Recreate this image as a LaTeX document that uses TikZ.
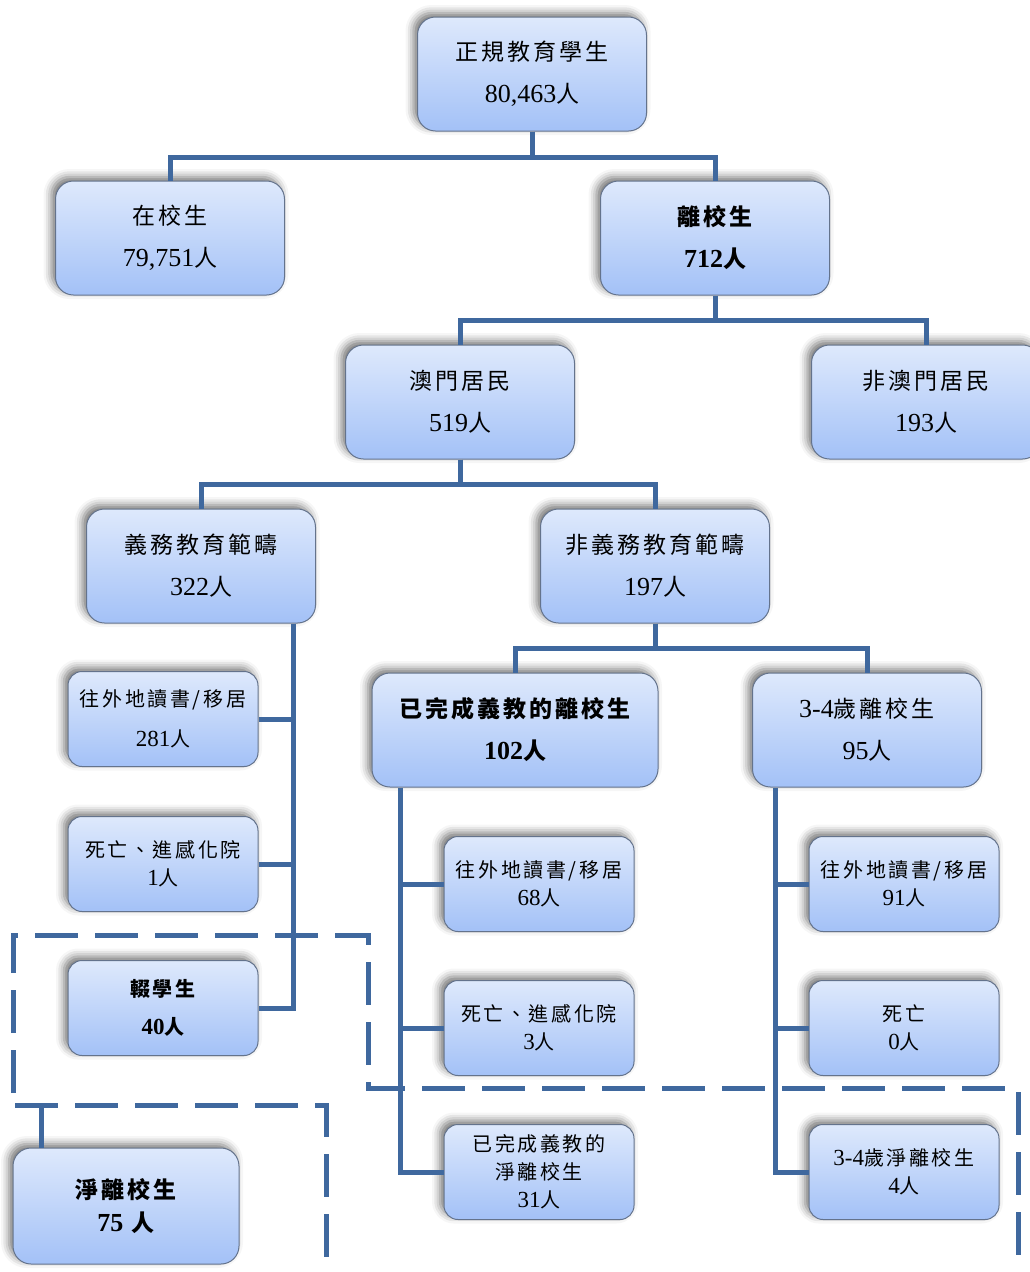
\documentclass[tikz,border=0pt]{standalone}
\usepackage{fontspec}
\setmainfont{Noto Sans CJK TC}[LetterSpace=13]
\newfontfamily\tnr{Liberation Serif}
\usetikzlibrary{shadows.blur}

\definecolor{lineblue}{RGB}{63,104,158}
\definecolor{boxtop}{RGB}{222,233,252}
\definecolor{boxbot}{RGB}{163,193,247}
\definecolor{boxedge}{RGB}{100,115,140}

\newcommand{\bignum}[1]{{\tnr\fontsize{26}{26}\selectfont #1}}
\newcommand{\smallnum}[1]{{\tnr\fontsize{23}{23}\selectfont #1}}

\begin{document}
\begin{tikzpicture}[x=1pt,y=-1pt,node distance=164pt,
    main node/.style={rounded corners=18pt,draw=boxedge,line width=1pt,top color=boxtop,bottom color=boxbot,
        minimum width=229pt,minimum height=114pt,inner sep=2pt,align=center,font=\fontsize{23}{42}\selectfont,
        blur shadow={shadow xshift=-4pt,shadow yshift=4pt,shadow blur radius=8pt,shadow opacity=55}},
    leaf node/.style={main node,rounded corners=14pt,minimum width=190pt,minimum height=95pt,font=\fontsize{20}{28}\selectfont},
    heavy/.style={font=\fontsize{23}{42}\selectfont\bfseries},
    link/.style={draw=lineblue,line width=5pt},
    dashbox/.style={draw=lineblue,line width=5pt,dash pattern=on 43pt off 17pt}]
    \useasboundingbox (0,0) rectangle (1029,1272);

    \node[main node] (top) at (532,74) {正規教育學生\\\bignum{80,463}人};
    \node[main node] (zai) [below of=top, xshift=-362pt] {在校生\\\bignum{79,751}人};
    \node[main node,heavy] (li) [below of=top, xshift=183pt] {離校生\\\bignum{712}人};
    \node[main node] (aomen) [below of=li, xshift=-255pt] {澳門居民\\\bignum{519}人};
    \node[main node] (feiao) [below of=li, xshift=211pt] {非澳門居民\\\bignum{193}人};
    \node[main node] (yiwu) [below of=aomen, xshift=-259pt] {義務教育範疇\\\bignum{322}人};
    \node[main node] (feiyiwu) [below of=aomen, xshift=195pt] {非義務教育範疇\\\bignum{197}人};
    \node[main node,heavy,minimum width=286pt] (wancheng) [below of=feiyiwu, xshift=-140pt] {已完成義教的離校生\\\bignum{102}人};
    \node[main node] (age) [below of=feiyiwu, xshift=212pt] {\bignum{3-4}歲離校生\\\bignum{95}人};

    \node[leaf node] (yw1) [below of=yiwu, node distance=153pt, xshift=-38pt] {往外地讀書/移居\\[12pt]\smallnum{281}人};
    \node[leaf node] (yw2) [below of=yw1, node distance=145pt] {死亡、進感化院\\\smallnum{1}人};
    \node[leaf node,font=\fontsize{20}{38}\selectfont\bfseries] (drop) [below of=yw2, node distance=144pt] {輟學生\\\smallnum{40}人};
    \node[main node,heavy,minimum width=226pt,minimum height=116pt,font=\fontsize{23}{33}\selectfont\bfseries] (net) [below of=drop, node distance=198pt, xshift=-37pt] {淨離校生\\\bignum{75} 人};

    \node[leaf node] (wc1) [below of=wancheng, node distance=154pt, xshift=24pt] {往外地讀書/移居\\\smallnum{68}人};
    \node[leaf node] (wc2) [below of=wc1, node distance=144pt] {死亡、進感化院\\\smallnum{3}人};
    \node[leaf node] (wc3) [below of=wc2, node distance=144pt] {已完成義教的\\淨離校生\\\smallnum{31}人};

    \node[leaf node] (ag1) [below of=age, node distance=154pt, xshift=37pt] {往外地讀書/移居\\\smallnum{91}人};
    \node[leaf node] (ag2) [below of=ag1, node distance=144pt] {死亡\\\smallnum{0}人};
    \node[leaf node] (ag3) [below of=ag2, node distance=144pt] {\smallnum{3-4}歲淨離校生\\\smallnum{4}人};

    % tree links
    \draw[link] (top.south) -- ++(0,26) -| (zai.north);
    \draw[link] (top.south) -- ++(0,26) -| (li.north);
    \draw[link] (li.south) -- ++(0,25) -| (aomen.north);
    \draw[link] (li.south) -- ++(0,25) -| (feiao.north);
    \draw[link] (aomen.south) -- ++(0,25) -| (yiwu.north);
    \draw[link] (aomen.south) -- ++(0,25) -| (feiyiwu.north);
    \draw[link] (feiyiwu.south) -- ++(0,25) -| (wancheng.north);
    \draw[link] (feiyiwu.south) -- ++(0,25) -| (age.north);

    % side buses
    \draw[link] ([xshift=-23pt]yiwu.south east) |- (drop.east);
    \draw[link] (yw1.east) -| ([xshift=-23pt]yiwu.south east);
    \draw[link] (yw2.east) -| ([xshift=-23pt]yiwu.south east);
    \draw[link] ([xshift=29pt]wancheng.south west) |- (wc3.west);
    \draw[link] (wc1.west) -| ([xshift=29pt]wancheng.south west);
    \draw[link] (wc2.west) -| ([xshift=29pt]wancheng.south west);
    \draw[link] ([xshift=23pt]age.south west) |- (ag3.west);
    \draw[link] (ag1.west) -| ([xshift=23pt]age.south west);
    \draw[link] (ag2.west) -| ([xshift=23pt]age.south west);

    % dashed groups
    \draw[dashbox] (13,1093) |- (368,935) |- (1018,1088) -- (1018,1272);
    \draw[dashbox] (15,1105) -| (326,1272);
    \draw[dashbox] ([xshift=29pt]net.north west) -- ++(0,-43);
\end{tikzpicture}
\end{document}
